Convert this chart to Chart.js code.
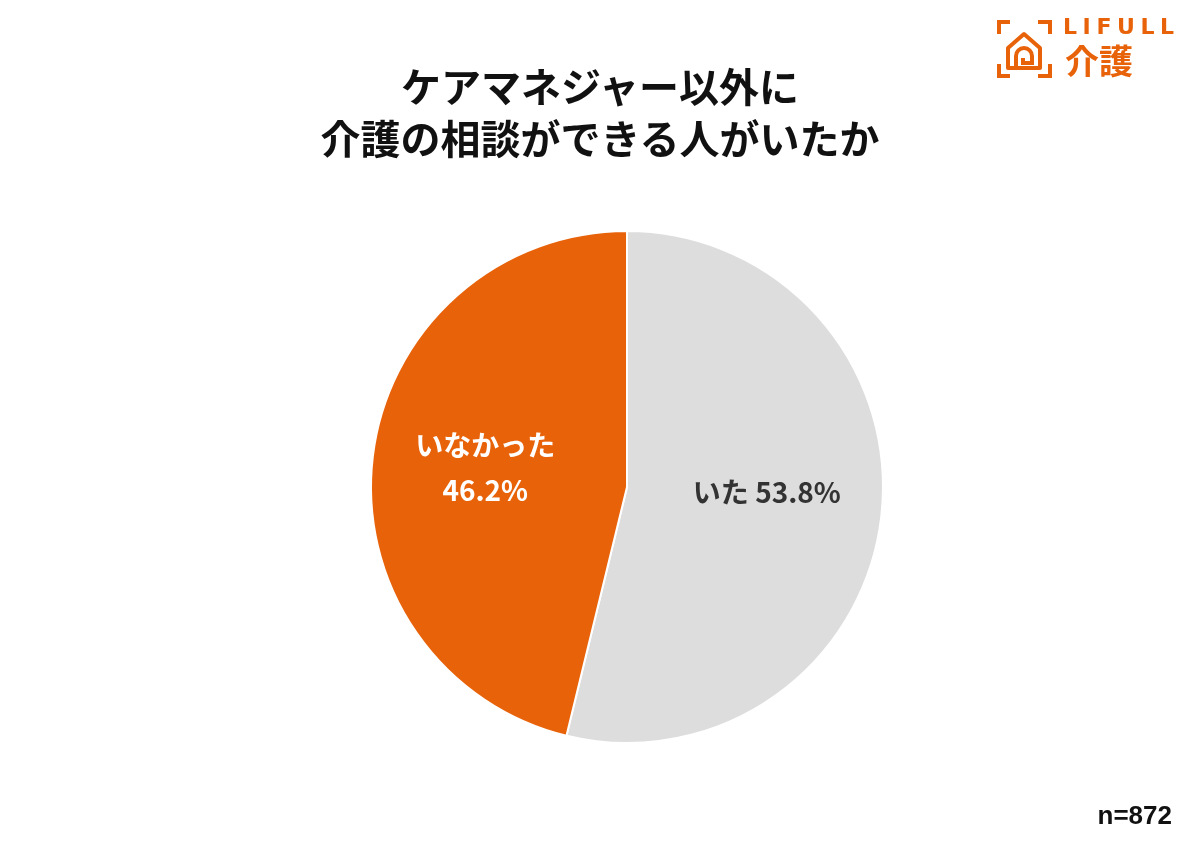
<!DOCTYPE html>
<html lang="ja">
<head>
<meta charset="utf-8">
<script src="https://cdn.jsdelivr.net/npm/chart.js@4/dist/chart.umd.min.js"></script>
<style>
  html, body { margin: 0; padding: 0; background: #fff; }
  #wrap { position: relative; width: 1200px; height: 848px; overflow: hidden;
          font-family: "Noto Sans CJK JP", "Noto Sans", sans-serif; }
  #pie { position: absolute; left: 0; top: 0; }
  .title { position: absolute; left: 0; width: 1200px; top: 59px; text-align: center;
           font-size: 40px; font-weight: 700; line-height: 52px; color: #111; }
  .note { position: absolute; right: 28px; top: 800px; font-size: 26px; font-weight: 700;
          color: #111; font-family: "Liberation Sans", Arial, sans-serif; }
  .logo { position: absolute; left: 996px; top: 18px; width: 190px; height: 62px; color: #e8620a; }
  .logo .en { position: absolute; left: 67px; top: -4px; font-size: 22px; font-weight: 700;
              letter-spacing: 5.6px; font-family: "DejaVu Sans", sans-serif; }
  .logo .jp { position: absolute; left: 69px; top: 22px; font-size: 34px; font-weight: 700; line-height: 40px; }
</style>
</head>
<body>
<div id="wrap">
  <canvas id="pie" width="1200" height="848"></canvas>
  <div class="title">ケアマネジャー以外に<br>介護の相談ができる人がいたか</div>
  <div class="note">n=872</div>
  <div class="logo">
    <svg width="58" height="62" viewBox="0 0 58 62" style="position:absolute;left:0;top:0">
      <g fill="none" stroke="#e8620a" stroke-width="4">
        <path d="M3 16 V4 H14"/>
        <path d="M42 4 H54 V16"/>
        <path d="M3 46 V58 H14"/>
        <path d="M42 58 H54 V46"/>
        <path d="M12 50 V30 L28 16 L44 30 V50 Z" stroke-linejoin="round"/>
        <path d="M20 50 V38 a8 8 0 0 1 16 0 V45 H27 V40"/>
      </g>
    </svg>
    <div class="en">LIFULL</div>
    <div class="jp">介護</div>
  </div>
</div>
<script>
// データ
const categories = ['いた', 'いなかった'];
const values = [53.8, 46.2];
const sliceColors = ['#dddddd', '#e8620a'];
const labelColors = ['#333333', '#ffffff'];
const labelShiftY = [-11, -3]; // ラベルの微調整

// スライスのラベル(中に描く)
const sliceLabels = {
  id: 'sliceLabels',
  afterDatasetsDraw(chart) {
    const ctx = chart.ctx;
    const meta = chart.getDatasetMeta(0);
    meta.data.forEach((arc, i) => {
      const mid = (arc.startAngle + arc.endAngle) / 2;
      const r = arc.outerRadius * 0.55;
      const x = arc.x + Math.cos(mid) * r;
      const y = arc.y + Math.sin(mid) * r + labelShiftY[i];
      ctx.save();
      ctx.fillStyle = labelColors[i];
      ctx.font = '700 28px "Noto Sans CJK JP", sans-serif';
      ctx.textAlign = 'center';
      ctx.textBaseline = 'middle';
      const pct = values[i].toFixed(1) + '%';
      if (i === 0) {
        ctx.fillText(categories[i] + ' ' + pct, x, y);
      } else {
        ctx.fillText(categories[i], x - 2, y - 22);
        ctx.fillText(pct, x - 2, y + 23);
      }
      ctx.restore();
    });
  }
};

new Chart(document.getElementById('pie').getContext('2d'), {
  type: 'pie',
  data: {
    labels: categories,
    datasets: [{
      data: values,
      backgroundColor: sliceColors,
      borderColor: '#ffffff',
      borderWidth: 2
    }]
  },
  options: {
    responsive: false,
    animation: false,
    layout: { padding: { top: 230, bottom: 104, left: 370, right: 316 } },
    plugins: {
      legend: { display: false },
      tooltip: { enabled: false }
    }
  },
  plugins: [sliceLabels]
});
</script>
</body>
</html>
